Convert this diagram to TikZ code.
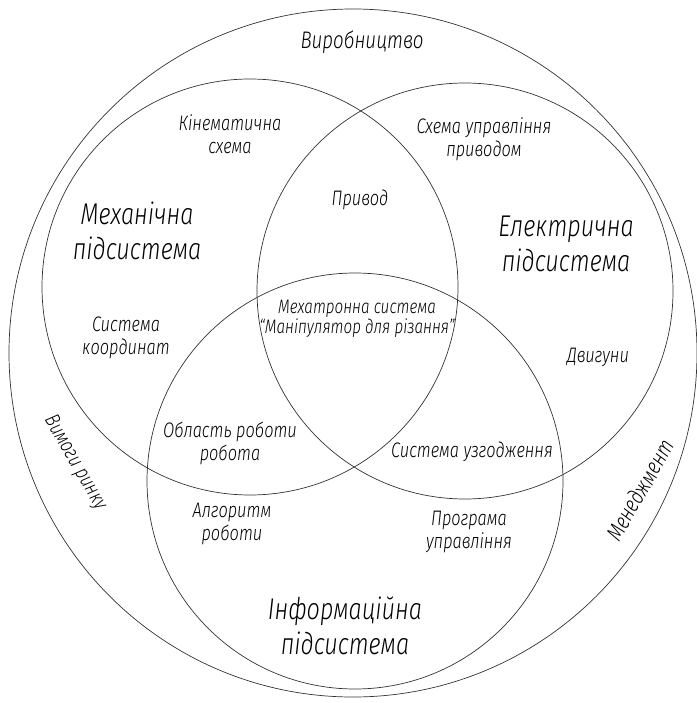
\documentclass[tikz,border=0pt]{standalone}
\usepackage{fontspec}
\setmainfont{Fira Sans}[UprightFont=* Light, ItalicFont=* Light Italic, FakeStretch=0.78]
\begin{document}
\begin{tikzpicture}[x=1pt,y=-1pt,
  circ/.style={draw=black!80, line width=0.7pt},
  lab/.style={align=center, inner sep=0pt, font=\fontsize{21}{23}\selectfont\itshape},
  big/.style={align=center, inner sep=0pt, font=\fontsize{30}{35}\selectfont\itshape}]
\useasboundingbox (0,0) rectangle (696,703);
\coordinate (O) at (353,353);
\coordinate (M) at (250,287);
\coordinate (E) at (465,291);
\coordinate (I) at (355,481);
\draw[circ] (O) circle[radius=344pt];
\draw[circ] (M) circle[radius=208pt];
\draw[circ] (E) circle[radius=208pt];
\draw[circ] (I) circle[radius=208pt];
\node[lab, font=\fontsize{24}{24}\selectfont\itshape] (vyr) at (362,42) {Виробництво};
\node[lab] (kin) at (230,134) {Кінематична\\схема};
\node[big] (mech) at (137,231) {Механічна\\підсистема};
\node[lab] (syst) at (126,338) {Система\\координат};
\node[lab] (pryv) at (360,200) {Привод};
\node[lab] (shema) at (484,139) {Схема управління\\приводом};
\node[big] (elec) at (566,244) {Електрична\\підсистема};
\node[lab] (dvyg) at (598,357) {Двигуни};
\node[lab, font=\fontsize{19.5}{20}\selectfont\itshape] (mechatr) at (357,319) {Мехатронна система\\“Маніпулятор для різання”};
\node[lab] (obl) at (230,443) {Область роботи\\робота};
\node[lab] (uzg) at (472,452) {Система узгодження};
\node[lab] (alg) at (232,524) {Алгоритм\\роботи};
\node[lab] (prog) at (469,532) {Програма\\управління};
\node[big] (inf) at (345,626) {Інформаційна\\підсистема};
\node[lab, rotate=-60] (vym) at (75,463) {Вимоги ринку};
\node[lab, font=\fontsize{23}{23}\selectfont\itshape, rotate=60] (men) at (640,490) {Менеджмент};
\end{tikzpicture}
\end{document}
